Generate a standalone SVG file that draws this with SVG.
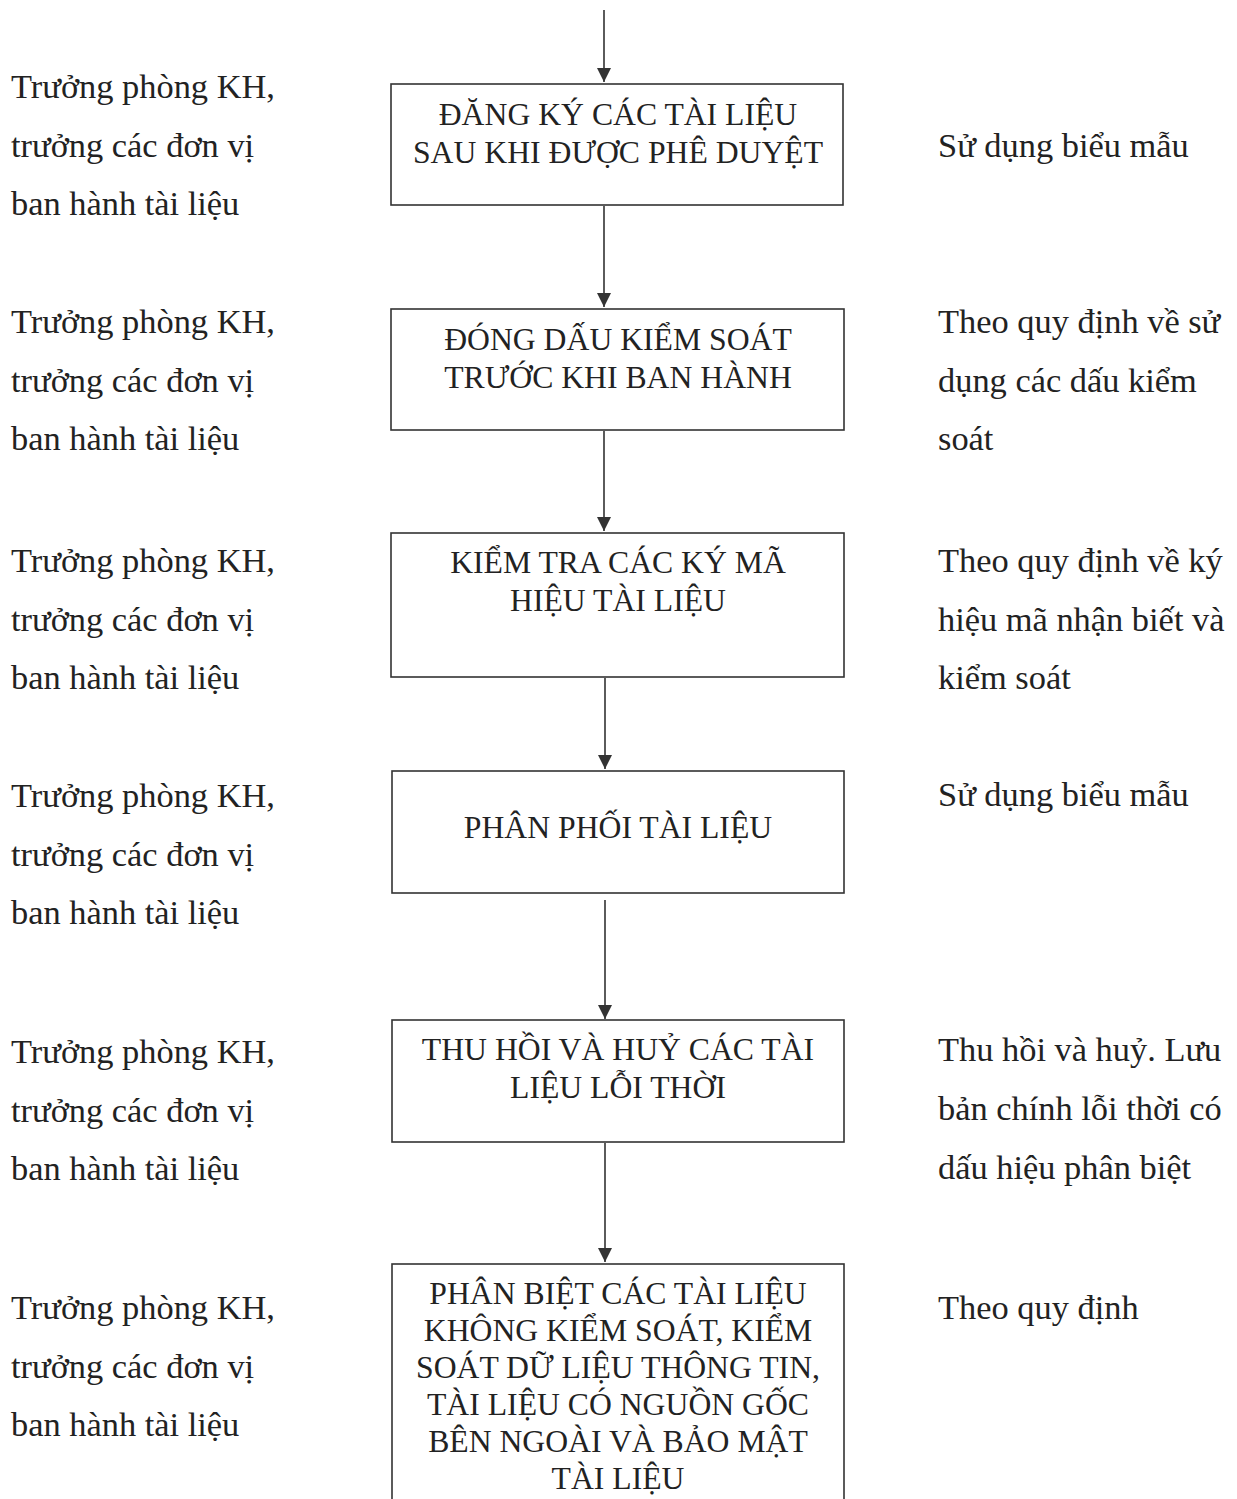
<svg xmlns="http://www.w3.org/2000/svg" width="1237" height="1499" viewBox="0 0 1237 1499">
<defs>
<style>
.box{fill:#fff;stroke:#333;stroke-width:1.6}
.bt{font-family:"Liberation Serif","DejaVu Serif",serif;font-size:31.7px;fill:#222;text-anchor:middle}
.st{font-family:"Liberation Serif","DejaVu Serif",serif;font-size:34.4px;fill:#222}
.ln{stroke:#333;stroke-width:1.6;fill:none}
</style>
<marker id="ah" viewBox="0 0 10 10" refX="10" refY="5" markerWidth="14" markerHeight="14" markerUnits="userSpaceOnUse" orient="auto">
<path d="M0,0 L10,5 L0,10 z" fill="#333"/>
</marker>
</defs>
<rect width="1237" height="1499" fill="#fff"/>
<g id="connectors">
<line class="ln" x1="604" y1="10" x2="604" y2="82" marker-end="url(#ah)"/>
<line class="ln" x1="604" y1="206" x2="604" y2="307" marker-end="url(#ah)"/>
<line class="ln" x1="604" y1="431" x2="604" y2="531" marker-end="url(#ah)"/>
<line class="ln" x1="605" y1="678" x2="605" y2="769" marker-end="url(#ah)"/>
<line class="ln" x1="605" y1="900" x2="605" y2="1019" marker-end="url(#ah)"/>
<line class="ln" x1="605" y1="1143" x2="605" y2="1262" marker-end="url(#ah)"/>
</g>
<g id="node1">
<rect class="box" x="391" y="84" width="452" height="121"/>
<text class="bt" x="618" y="125">ĐĂNG KÝ CÁC TÀI LIỆU</text>
<text class="bt" x="618" y="163">SAU KHI ĐƯỢC PHÊ DUYỆT</text>
</g>
<g id="node2">
<rect class="box" x="391" y="309" width="453" height="121"/>
<text class="bt" x="618" y="350">ĐÓNG DẤU KIỂM SOÁT</text>
<text class="bt" x="618" y="388">TRƯỚC KHI BAN HÀNH</text>
</g>
<g id="node3">
<rect class="box" x="391" y="533" width="453" height="144"/>
<text class="bt" x="618" y="573">KIỂM TRA CÁC KÝ MÃ</text>
<text class="bt" x="618" y="611">HIỆU TÀI LIỆU</text>
</g>
<g id="node4">
<rect class="box" x="392" y="771" width="452" height="122"/>
<text class="bt" x="618" y="838">PHÂN PHỐI TÀI LIỆU</text>
</g>
<g id="node5">
<rect class="box" x="392" y="1020" width="452" height="122"/>
<text class="bt" x="618" y="1060">THU HỒI VÀ HUỶ CÁC TÀI</text>
<text class="bt" x="618" y="1098">LIỆU LỖI THỜI</text>
</g>
<g id="node6">
<rect class="box" x="392" y="1264" width="452" height="260"/>
<text class="bt" x="618" y="1304">PHÂN BIỆT CÁC TÀI LIỆU</text>
<text class="bt" x="618" y="1341">KHÔNG KIỂM SOÁT, KIỂM</text>
<text class="bt" x="618" y="1378">SOÁT DỮ LIỆU THÔNG TIN,</text>
<text class="bt" x="618" y="1415">TÀI LIỆU CÓ NGUỒN GỐC</text>
<text class="bt" x="618" y="1452">BÊN NGOÀI VÀ BẢO MẬT</text>
<text class="bt" x="618" y="1489">TÀI LIỆU</text>
</g>
<g id="left-labels">
<text class="st" x="11" y="98">Trưởng phòng KH,</text>
<text class="st" x="11" y="157">trưởng các đơn vị</text>
<text class="st" x="11" y="215">ban hành tài liệu</text>
<text class="st" x="11" y="333">Trưởng phòng KH,</text>
<text class="st" x="11" y="392">trưởng các đơn vị</text>
<text class="st" x="11" y="450">ban hành tài liệu</text>
<text class="st" x="11" y="572">Trưởng phòng KH,</text>
<text class="st" x="11" y="631">trưởng các đơn vị</text>
<text class="st" x="11" y="689">ban hành tài liệu</text>
<text class="st" x="11" y="807">Trưởng phòng KH,</text>
<text class="st" x="11" y="866">trưởng các đơn vị</text>
<text class="st" x="11" y="924">ban hành tài liệu</text>
<text class="st" x="11" y="1063">Trưởng phòng KH,</text>
<text class="st" x="11" y="1122">trưởng các đơn vị</text>
<text class="st" x="11" y="1180">ban hành tài liệu</text>
<text class="st" x="11" y="1319">Trưởng phòng KH,</text>
<text class="st" x="11" y="1378">trưởng các đơn vị</text>
<text class="st" x="11" y="1436">ban hành tài liệu</text>
</g>
<g id="right-labels">
<text class="st" x="938" y="157">Sử dụng biểu mẫu</text>
<text class="st" x="938" y="333">Theo quy định về sử</text>
<text class="st" x="938" y="392">dụng các dấu kiểm</text>
<text class="st" x="938" y="450">soát</text>
<text class="st" x="938" y="572">Theo quy định về ký</text>
<text class="st" x="938" y="631">hiệu mã nhận biết và</text>
<text class="st" x="938" y="689">kiểm soát</text>
<text class="st" x="938" y="806">Sử dụng biểu mẫu</text>
<text class="st" x="938" y="1061">Thu hồi và huỷ. Lưu</text>
<text class="st" x="938" y="1120">bản chính lỗi thời có</text>
<text class="st" x="938" y="1179">dấu hiệu phân biệt</text>
<text class="st" x="938" y="1319">Theo quy định</text>
</g>
</svg>
